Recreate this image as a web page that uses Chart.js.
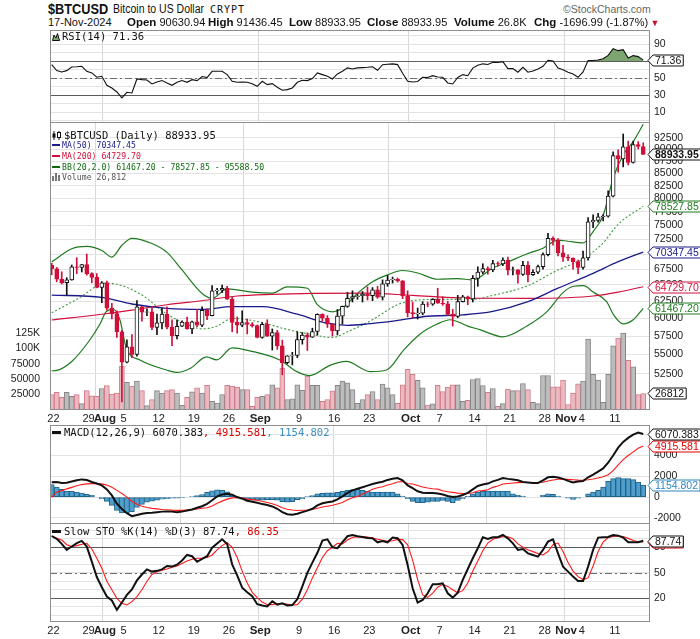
<!DOCTYPE html>
<html>
<head>
<meta charset="utf-8">
<title>$BTCUSD</title>
<script src="https://cdn.jsdelivr.net/npm/chart.js@4.4.1/dist/chart.umd.min.js"></script>
<style>
  html, body { margin: 0; padding: 0; background: #fff; }
  body { position: relative; width: 700px; height: 639px; overflow: hidden; font-family: "Liberation Sans", Arial, sans-serif; color: #111; }
  canvas { position: absolute; left: 0; }
  .t { position: absolute; white-space: nowrap; line-height: 1; }
  .mono { font-family: "DejaVu Sans Mono", monospace; font-size: 10.5px; }
  .sub { font-family: "DejaVu Sans Mono", monospace; font-size: 8.2px; }
  .mk { display: inline-block; width: 8px; height: 2px; vertical-align: middle; margin: 0 2px 1px 0; }
  .sx { transform-origin: 0 0; }
  .hb { font-weight: bold; font-size: 11.5px; }
</style>
</head>
<body>
<canvas id="rsi" width="700" height="93" style="top:30px"></canvas>
<canvas id="main" width="700" height="306" style="top:122px"></canvas>
<canvas id="macd" width="700" height="99" style="top:425px"></canvas>
<canvas id="sto" width="700" height="116" style="top:523px"></canvas>

<!-- header -->
<div class="t sx" style="left:48px;top:1px;font-size:15px;font-weight:bold;transform:scaleX(0.85)">$BTCUSD</div>
<div class="t sx" style="left:113px;top:3px;font-size:12px;transform:scaleX(0.875)">Bitcoin to US Dollar</div>
<div class="t" style="left:210px;top:5px;font-family:'DejaVu Sans Mono',monospace;font-size:10px;letter-spacing:1px">CRYPT</div>
<div class="t" style="left:563px;top:4px;font-size:10.5px;color:#666">&copy;StockCharts.com</div>
<div class="t" style="left:48px;top:17px;font-size:11px">17-Nov-2024</div>
<div class="t" style="left:127px;top:16.5px;font-size:11px"><span class="hb">Open</span> 90630.94</div>
<div class="t" style="left:208px;top:16.5px;font-size:11px"><span class="hb">High</span> 91436.45</div>
<div class="t" style="left:289px;top:16.5px;font-size:11px"><span class="hb">Low</span> 88933.95</div>
<div class="t" style="left:367px;top:16.5px;font-size:11px"><span class="hb">Close</span> 88933.95</div>
<div class="t" style="left:454px;top:16.5px;font-size:11px"><span class="hb">Volume</span> 26.8K</div>
<div class="t" style="left:534px;top:16.5px;font-size:11px"><span class="hb">Chg</span> -1696.99 (-1.87%)<span style="color:#c8102e;font-size:9px"> &#9660;</span></div>

<!-- panel titles -->
<div class="t mono" style="left:52px;top:30.5px"><svg width="8" height="8" style="vertical-align:-1px;margin-right:2px"><polygon points="0.5,7.5 2,2 4,5 5.5,0.5 7.5,7.5" fill="#7ca56f" stroke="#111" stroke-width="1"/></svg>RSI(14) 71.36</div>

<div class="t mono" style="left:52px;top:129.7px"><svg width="10" height="9" style="vertical-align:-1px;margin-right:2px"><line x1="2" y1="0" x2="2" y2="9" stroke="#111"/><rect x="0.5" y="2.5" width="3" height="4" fill="#111"/><line x1="7" y1="0" x2="7" y2="9" stroke="#111"/><rect x="5.5" y="1.5" width="3" height="5" fill="#fff" stroke="#111"/></svg>$BTCUSD (Daily) 88933.95</div>
<div class="t sub" style="left:52px;top:141.4px;color:#1a1a8a"><span class="mk" style="background:#1a1a8a"></span>MA(50) 70347.45</div>
<div class="t sub" style="left:52px;top:152.4px;color:#d0103a"><span class="mk" style="background:#d0103a"></span>MA(200) 64729.70</div>
<div class="t sub" style="left:52px;top:163px;color:#0d6b0d"><span class="mk" style="background:#0d6b0d"></span>BB(20,2.0) 61467.20 - 78527.85 - 95588.50</div>
<div class="t sub" style="left:52px;top:173px;color:#555"><svg width="8" height="8" style="vertical-align:-1px;margin-right:2px"><rect x="0" y="3" width="2" height="5" fill="#777"/><rect x="3" y="0" width="2" height="8" fill="#777"/><rect x="6" y="2" width="2" height="6" fill="#777"/></svg>Volume 26,812</div>

<div class="t mono" style="left:52px;top:426.5px"><span class="mk" style="background:#111;height:3px;width:9px;margin-right:3px"></span>MACD(12,26,9) 6070.383<span style="color:#e00000">, 4915.581</span><span style="color:#3a8fc4">, 1154.802</span></div>
<div class="t mono" style="left:52px;top:526px"><span class="mk" style="background:#111;height:3px;width:9px;margin-right:3px"></span>Slow STO %K(14) %D(3) 87.74<span style="color:#e00000">, 86.35</span></div>

<script>
// ---- daily candles, Jul 22 (index 0) .. Nov 17 2024 (index 118) ----
const opens = [
  68160, 67580, 65930, 65370, 65800, 67900, 67810, 68250, 66800, 66200,
  64620, 65350, 61500, 60680, 58100, 54000, 56050, 55020, 61700, 60900,
  60950, 58700, 59350, 60600, 58740, 57560, 58870, 59480, 58480, 59490,
  59010, 61180, 60380, 64090, 64180, 64500, 62830, 59420, 59030, 59390,
  59120, 58970, 57300, 59130, 57480, 57970, 56160, 53950, 54840, 54880,
  57020, 57650, 57340, 58130, 60570, 60010, 59180, 58210, 60310, 61760,
  62950, 63200, 63350, 63580, 63340, 64260, 63140, 65180, 65790, 65890,
  65640, 63330, 60840, 60630, 60750, 62090, 62060, 62820, 62220, 62130,
  60580, 60270, 62450, 63190, 62850, 66050, 67040, 67610, 67400, 68420,
  68360, 69000, 67370, 67400, 66680, 68160, 66640, 67020, 67930, 69910,
  72720, 72340, 70210, 69480, 69330, 68740, 67810, 69360, 75640, 75900,
  76550, 76680, 80470, 88700, 87950, 90580, 87250, 91070, 90631
];
const highs = [
  68480, 67800, 67100, 66150, 68200, 69400, 68300, 70000, 66950, 66800,
  65550, 65600, 62200, 61100, 58300, 57000, 57700, 62600, 61750, 61400,
  61750, 60600, 61500, 61700, 59800, 59800, 59650, 60200, 59600, 61300,
  61700, 61400, 64900, 64500, 65000, 64800, 63200, 60200, 61100, 59900,
  59400, 59050, 59400, 59800, 58500, 58300, 56950, 54850, 55300, 58100,
  58000, 57950, 58600, 60650, 60650, 60400, 59200, 61300, 61800, 63850,
  64100, 63550, 64000, 64700, 64600, 64800, 65800, 66500, 66250, 66100,
  65700, 64100, 62400, 61500, 62450, 62400, 62900, 64500, 63200, 62500,
  61300, 63400, 63400, 63300, 66500, 67900, 68400, 67900, 68950, 68700,
  69400, 69500, 67850, 67450, 68800, 68750, 67400, 68200, 70200, 73600,
  72950, 72650, 71500, 69900, 69400, 69000, 70500, 76400, 76900, 77200,
  76950, 81500, 89500, 89900, 93400, 91800, 91800, 91700, 91436
];
const lows = [
  66600, 65500, 65150, 63450, 65750, 66800, 67050, 66550, 65350, 64550,
  62300, 61200, 59900, 57300, 49100, 53900, 54600, 54800, 59600, 60400,
  58400, 57700, 58500, 58500, 56200, 57100, 58800, 58450, 57850, 58800,
  58800, 59800, 60350, 63600, 63800, 62800, 58100, 57900, 58800, 57800,
  58750, 57250, 57200, 57450, 55600, 55700, 52400, 53800, 53650, 54600,
  56400, 55550, 57300, 57650, 59600, 58700, 57500, 57650, 59200, 61600,
  62400, 62800, 62400, 62700, 62600, 62950, 62700, 64800, 65300, 65450,
  62900, 60200, 60050, 59900, 60500, 61700, 61900, 62200, 61900, 60400,
  58900, 60100, 62400, 62000, 62400, 64800, 66800, 66700, 67100, 68000,
  68100, 66600, 66600, 65300, 66500, 65500, 66500, 66800, 67500, 69700,
  71500, 69700, 68800, 68900, 67500, 66800, 67500, 69000, 74600, 75600,
  75800, 76500, 80300, 85200, 86300, 86700, 87100, 90100, 88934
];
const closes = [
  67580, 65930, 65370, 65800, 67900, 67810, 68250, 66800, 66200, 64620,
  65350, 61500, 60680, 58100, 54000, 56050, 55020, 61700, 60900, 60950,
  58700, 59350, 60600, 58740, 57560, 58870, 59480, 58480, 59490, 59010,
  61180, 60380, 64090, 64180, 64500, 62830, 59420, 59030, 59390, 59120,
  58970, 57300, 59130, 57480, 57970, 56160, 53950, 54840, 54880, 57020,
  57650, 57340, 58130, 60570, 60010, 59180, 58210, 60310, 61760, 62950,
  63200, 63350, 63580, 63340, 64260, 63140, 65180, 65790, 65890, 65640,
  63330, 60840, 60630, 60750, 62090, 62060, 62820, 62220, 62130, 60580,
  60270, 62450, 63190, 62850, 66050, 67040, 67610, 67400, 68420, 68360,
  69000, 67370, 67400, 66680, 68160, 66640, 67020, 67930, 69910, 72720,
  72340, 70210, 69480, 69330, 68740, 67810, 69360, 75640, 75900, 76550,
  76680, 80470, 88700, 87950, 90580, 87250, 91070, 90631, 88933.95
];
const volumes = [
  25000, 28800, 20600, 28800, 22200, 25000, 10300, 31500, 23000, 22000,
  34800, 39700, 26000, 27600, 71200, 45000, 38600, 46700, 31500, 7000,
  16800, 31500, 27600, 31500, 33200, 27600, 7500, 20600, 29400, 36000,
  27600, 40200, 14000, 11300, 25000, 40200, 38600, 37000, 33000, 33000,
  6000, 20600, 22000, 25000, 41000, 36000, 68000, 17000, 18000, 41000,
  32000, 55000, 40000, 40000, 14000, 17000, 31000, 40000, 46700, 44000,
  33000, 11000, 17000, 25000, 30000, 17000, 42000, 36000, 25000, 11000,
  41000, 66000, 58000, 48000, 36000, 8000, 10000, 40000, 30000, 37000,
  41000, 41000, 14000, 15700, 49500, 51000, 39700, 28800, 34800, 5900,
  10300, 34000, 31500, 31500, 43000, 33000, 12400, 10300, 56000, 56000,
  37400, 37400, 48400, 8600, 27600, 42300, 46700, 114900, 57700, 48400,
  12400, 57700, 104000, 116500, 124700, 80500, 70000, 25000, 26812
];

// ---- overlays read at sample days: [day, value] ----
const ma50 = [[0,63450],[10,63100],[16,62100],[23,61450],[30,61300],[36,61700],[42,61700],[49,60600],[55,59300],[59,59000],[63,59200],[69,59700],[75,60300],[82,60500],[88,61000],[95,62450],[101,64500],[108,66850],[113,68750],[118,70347.45]];
const ma200 = [[0,59760],[10,60600],[16,61200],[23,62000],[30,62600],[37,63300],[44,63550],[52,63700],[63,63750],[72,63400],[83,63000],[95,62950],[103,63050],[108,63300],[113,63900],[118,64729.70]];
const bbUpper = [[0,68700],[4,70900],[7,71300],[10,70600],[12,69500],[14,71500],[16,72700],[20,71800],[23,70300],[26,67400],[30,63700],[32,62950],[35,64400],[40,63900],[44,63750],[47,64700],[51,64500],[53,62000],[56,60950],[58,61500],[61,63700],[64,65500],[67,66600],[70,67300],[73,66900],[77,65900],[81,66000],[84,65800],[88,67700],[91,68700],[95,70100],[98,71000],[101,72400],[103,72200],[106,71900],[108,73900],[110,76800],[112,84000],[114,88800],[116,91700],[118,95588.50]];
const bbMiddle = [[0,60800],[5,62800],[11,65300],[14,64900],[18,63450],[23,60600],[27,59150],[30,58500],[33,58900],[36,60000],[42,59400],[46,58600],[52,57700],[56,57300],[59,58100],[64,59800],[69,62000],[73,62700],[78,62800],[84,62800],[88,63400],[95,64900],[101,67400],[106,69200],[110,71900],[113,75200],[118,78527.85]];
const bbLower = [[0,52900],[1,52950],[4,54100],[7.6,56960],[9.6,59150],[10.9,61000],[12.3,61300],[13.6,59800],[14.9,55800],[17.6,54300],[22.9,53000],[24.9,52700],[27.6,53200],[30.9,54700],[32.9,54300],[36,55900],[39.5,55500],[45.5,54300],[48.9,52800],[51.5,52300],[55.5,53600],[58.8,54100],[63.5,52800],[66.8,53000],[70.2,55600],[73.5,57800],[76.8,59150],[79.5,59800],[83,58900],[85.4,58400],[90,57400],[94.8,58900],[98.8,60970],[102.1,63900],[104.1,64800],[106.1,64900],[108,63900],[110.7,62450],[112,60600],[114,59200],[116,59800],[118,61467.20]];

// ---- indicators, one value per day ----
const rsi = [
  66, 59, 57.5, 59, 63.3, 63.5, 64.1, 58.2, 56.3, 51.2,
  52.4, 41.8, 38.6, 33.9, 26.9, 33.5, 32.7, 49.2, 48.4, 48,
  43.3, 45.7, 47.3, 44.5, 41.8, 45.3, 47.3, 45.3, 48.4, 47.3,
  52, 50.8, 58.2, 58.2, 58.2, 54.3, 46.5, 45.3, 45.7, 45.3,
  43.7, 40.6, 46.5, 42.5, 43.7, 39.4, 35.9, 36.7, 38.6, 45.3,
  47.6, 47.3, 49.6, 56.3, 54.3, 52.4, 49.2, 55.1, 58.2, 62.2,
  61, 62.2, 62.5, 62.9, 63.5, 59.4, 66, 66.5, 66.9, 66.1,
  56, 46.5, 45.7, 46.2, 51.2, 51, 53.1, 51.5, 51.2, 44.5,
  43.3, 51, 54.3, 53, 62, 65.3, 67, 66.2, 68.8, 68.5,
  69.6, 61.4, 61.4, 57.1, 62.9, 57.1, 58.5, 61, 64.1, 71.2,
  70.4, 62, 60, 57.1, 55, 51.2, 57.5, 70.8, 71, 71.6,
  73, 77, 84.9, 82.5, 83.7, 73.9, 76.7, 75.5, 71.36
];
const macdLine = [
  1420, 1440, 1360, 1380, 1500, 1620, 1700, 1640, 1450, 1300,
  1127, 741, 161, -644, -1150, -1550, -1835, -1720, -1600, -1530,
  -1513, -1460, -1400, -1385, -1400, -1449, -1400, -1300, -1200, -1030,
  -880, -650, -300, 64, 250, 322, 230, 0, -150, -350,
  -450, -547, -676, -760, -900, -1127, -1450, -1650, -1707, -1610,
  -1450, -1300, -1127, -805, -600, -500, -419, -225, 70, 400,
  650, 805, 950, 1100, 1250, 1385, 1470, 1650, 1760, 1835,
  1610, 1127, 850, 560, 420, 386, 386, 340, 250, 97,
  0, 60, 200, 400, 741, 1063, 1200, 1300, 1513, 1650,
  1835, 1750, 1680, 1610, 1449, 1400, 1360, 1352, 1600, 1900,
  1950, 1880, 1750, 1560, 1400, 1500, 1550, 1900, 2150, 2450,
  2750, 3300, 4000, 4750, 5300, 5690, 6000, 6200, 6070.383
];
const macdSignal = [
  0, 470, 620, 790, 930, 1080, 1200, 1270, 1290, 1290,
  1270, 1150, 950, 644, 340, 0, -400, -690, -880, -1000,
  -1090, -1140, -1190, -1225, -1260, -1280, -1280, -1250, -1210, -1150,
  -1080, -1030, -850, -600, -390, -200, -80, -40, -100, -200,
  -250, -300, -430, -530, -640, -810, -1030, -1170, -1240, -1290,
  -1270, -1250, -1200, -1070, -960, -880, -790, -660, -520, -250,
  -60, 64, 300, 520, 760, 900, 990, 1160, 1280, 1450,
  1500, 1300, 1260, 1110, 970, 870, 805, 760, 600, 516,
  450, 382, 350, 336, 419, 580, 620, 708, 933, 1070,
  1255, 1300, 1350, 1390, 1400, 1400, 1395, 1390, 1430, 1540,
  1640, 1720, 1740, 1700, 1660, 1630, 1620, 1660, 1740, 1840,
  1950, 2150, 2550, 3100, 3600, 4000, 4350, 4700, 4915.581
];
const macdHist = [
  1191, 966, 741, 580, 547, 483, 386, 258, 161, 0,
  -161, -419, -805, -1288, -1513, -1513, -1400, -1000, -700, -500,
  -400, -300, -200, -150, -100, -100, -50, 0, 50, 150,
  250, 450, 600, 700, 650, 500, 200, -100, -200, -250,
  -300, -300, -300, -250, -250, -300, -450, -500, -450, -250,
  -150, 50, 150, 300, 350, 400, 400, 450, 550, 644,
  708, 741, 644, 580, 483, 483, 483, 483, 483, 322,
  97, -161, -419, -547, -547, -483, -419, -419, -322, -419,
  -547, -322, -161, 64, 322, 483, 580, 580, 580, 580,
  580, 580, 322, 161, 97, 0, 0, 0, 161, 322,
  258, 97, 0, -97, -225, -97, 0, 322, 483, 644,
  966, 1513, 1771, 1868, 1771, 1771, 1674, 1449, 1154.802
];
const stoK = [
  93.3, 90, 84, 77, 81, 85, 87.5, 80.8, 63.1, 45,
  33, 22, 17.5, 6.3, 15, 24, 30.5, 41, 48, 54,
  51.4, 52.3, 54, 58, 57.3, 59.5, 64.5, 71, 69.5, 63,
  66.5, 69.5, 79.5, 84.5, 89.5, 84, 60, 47, 32.5, 27,
  22.5, 13, 11.5, 10.4, 16.5, 12.5, 14, 11.5, 12, 19,
  34, 50, 62, 73.5, 88, 89.4, 80, 79, 86, 93,
  94.5, 93, 92.2, 91, 90.6, 85.9, 87.5, 85.9, 91.4, 90.6,
  82.7, 59.2, 31.8, 14.9, 18, 25.9, 36.5, 36.5, 37.6, 25.9,
  20.8, 26.7, 41.6, 54.5, 67.1, 78.8, 91.8, 89.8, 91.8, 91.8,
  94.5, 90.6, 84.7, 76.9, 78, 72.9, 71, 69, 76.9, 86.7,
  89.4, 72.9, 57.3, 51.4, 45.5, 40.4, 40.4, 57.3, 76.9, 91.4,
  91.8, 92.2, 94.5, 93.7, 91.4, 85.9, 85.9, 85.9, 87.74
];
const stoD = [
  93.3, 90.5, 88.6, 83, 80.8, 82, 83.5, 84.7, 78, 67,
  55.3, 40, 30, 20, 14.1, 12.2, 16, 22, 30, 40,
  48, 51.4, 53, 54.5, 56.5, 58, 61, 64, 66, 67.1,
  67.1, 68, 71, 77, 82, 85.5, 80, 68, 52, 38,
  27, 20.8, 15.5, 12.5, 12.5, 13.5, 13.7, 13, 12.2, 12.5,
  19, 30, 44, 56, 68, 76, 80, 84.7, 84, 88.5,
  91.5, 92.5, 92.3, 92.2, 90.8, 89.5, 88.3, 87, 87.8, 89.3,
  89, 83, 65, 42, 24, 21, 26, 33, 36.5, 34,
  30, 26.5, 29, 38, 52, 64, 76, 85, 89.5, 91.2,
  92.5, 92.5, 90, 84, 80, 77, 74.9, 72.8, 71, 75,
  83, 85, 75, 62, 52, 45.5, 42, 44, 58, 75,
  86, 91.5, 92.8, 93.3, 92.8, 90.5, 88, 86.5, 86.35
];

// ---- axis labels ----
const tickDays = [0, 7, 10, 14, 21, 28, 35, 41, 49, 56, 63, 71, 77, 84, 91, 98, 102, 105, 112];
const tickText = ['22', '29', 'Aug', '5', '12', '19', '26', 'Sep', '9', '16', '23', 'Oct', '7', '14', '21', '28', 'Nov', '4', '11'];
const monthDays = [10, 41, 71, 102];
const priceTicks = [52500, 55000, 57500, 60000, 62500, 65000, 67500, 70000, 72500, 75000, 77500, 80000, 82500, 85000, 87500, 90000, 92500];
const volTicks = [25000, 50000, 75000, 100000, 125000];
const oscTicks = [0, 10, 20, 30, 40, 50, 60, 70, 80, 90, 100];
const rsiLabeled = [10, 30, 50, 70, 90];
const stoLabeled = [20, 50, 80];
const macdTicks = [-2000, 0, 2000, 4000, 6000];

// ---- styling ----
const FONT = '"Liberation Sans", Arial, sans-serif';
const RED = '#d0103a';
const GRID = '#e3e3e3';
const FRAME = '#8e8e8e';
const X_MIN = -0.34, X_MAX = 119.35;

Chart.defaults.font.family = FONT;
Chart.defaults.animation = false;

const pts = arr => arr.map((v, i) => ({x: i, y: v}));
const pairs = arr => arr.map(p => ({x: p[0], y: p[1]}));

// label ticks plus month grid ticks on one axis
const labelTicks = tickDays.map((d, i) => {
  const month = monthDays.includes(d);
  return {value: d + (month ? 0.6 : 0.35) + (tickText[i] === '4' ? 0.4 : 0), text: tickText[i], bold: month, grid: false};
});
const gridTicks = monthDays.map(d => ({value: d + 0.2, text: '', bold: false, grid: true}));
const xTickList = labelTicks.concat(gridTicks).sort((a, b) => a.value - b.value);

function xAxis(labels, h) {
  const list = labels ? xTickList : gridTicks;
  return {
    type: 'linear', min: X_MIN, max: X_MAX, offset: false,
    afterBuildTicks: s => { s.ticks = list.map(t => ({value: t.value})); },
    afterFit: s => { s.height = h; s.paddingLeft = 0; s.paddingRight = 0; },
    grid: { drawTicks: false, color: c => (list[c.index] && list[c.index].grid) ? '#d9d9d9' : 'rgba(0,0,0,0)' },
    border: { display: false },
    ticks: {
      display: labels, padding: 2, autoSkip: false, maxRotation: 0, color: '#222',
      callback: (v, i) => list[i].text,
      font: c => (list[c.index] && list[c.index].bold) ? {family: FONT, size: 11.5, weight: 'bold'} : {family: FONT, size: 11}
    }
  };
}

function yTicks(cb) {
  return { padding: 4, autoSkip: false, color: '#222', font: {family: FONT, size: 10.5}, callback: cb };
}

function rightAxis(extra) {
  return Object.assign({
    position: 'right',
    afterFit: s => { s.width = 50; s.paddingTop = 0; s.paddingBottom = 0; },
    grid: { drawTicks: false, color: GRID },
    border: { display: false }
  }, extra);
}

function drawBox(ctx, x, y, text, color, bold) {
  ctx.font = (bold ? 'bold ' : '') + '10.5px ' + FONT;
  const w = ctx.measureText(text).width + 4, h = 11, tip = 5;
  y = Math.round(y) + 0.5;
  ctx.beginPath();
  ctx.moveTo(x, y);
  ctx.lineTo(x + tip, y - h / 2);
  ctx.lineTo(x + tip + w, y - h / 2);
  ctx.lineTo(x + tip + w, y + h / 2);
  ctx.lineTo(x + tip, y + h / 2);
  ctx.closePath();
  ctx.fillStyle = '#fff';
  ctx.fill();
  ctx.strokeStyle = color;
  ctx.lineWidth = 1;
  ctx.stroke();
  ctx.fillStyle = color;
  ctx.textBaseline = 'middle';
  ctx.textAlign = 'left';
  ctx.fillText(text, x + tip + 2, y + 0.5);
}

function panel(levels, boxes) {
  return {
    id: 'panel',
    beforeDatasetsDraw(chart) {
      const {ctx, chartArea: a} = chart;
      levels.forEach(l => {
        const y = Math.round(chart.scales.y.getPixelForValue(l.v)) + 0.5;
        ctx.save();
        ctx.strokeStyle = l.c;
        ctx.lineWidth = l.w;
        ctx.setLineDash(l.d || []);
        ctx.beginPath();
        ctx.moveTo(a.left, y);
        ctx.lineTo(a.right, y);
        ctx.stroke();
        ctx.restore();
      });
    },
    afterDraw(chart) {
      const {ctx, chartArea: a} = chart;
      ctx.save();
      ctx.strokeStyle = FRAME;
      ctx.lineWidth = 1;
      ctx.strokeRect(Math.round(a.left) + 0.5, Math.round(a.top) + 0.5,
        Math.round(a.right - a.left) - 1, Math.round(a.bottom - a.top) - 1);
      boxes.forEach(b => drawBox(ctx, a.right - 2, chart.scales[b.axis || 'y'].getPixelForValue(b.v), b.t, b.c, b.bold));
      ctx.restore();
    }
  };
}

const baseOpts = (padLeft) => ({
  responsive: false,
  maintainAspectRatio: false,
  animation: false,
  events: [],
  layout: { padding: { left: padLeft, right: 0, top: 0, bottom: 0 } },
  plugins: { legend: { display: false }, tooltip: { enabled: false } },
  elements: { point: { radius: 0 }, line: { tension: 0 } }
});

const levelStyle = (v, kind) => kind === 'mid'
  ? {v: v, c: '#6d6d6d', w: 1, d: [7, 3, 2, 3]}
  : {v: v, c: '#5a5a5a', w: 1.2};

// ---- RSI ----
new Chart(document.getElementById('rsi'), {
  type: 'line',
  data: { datasets: [{
    data: pts(rsi), borderColor: '#111', borderWidth: 1.1,
    fill: { target: { value: 70 }, above: '#7ca56f', below: 'rgba(0,0,0,0)' }
  }] },
  options: Object.assign(baseOpts(50), {
    scales: {
      x: xAxis(false, 0),
      y: rightAxis({
        min: -2.6, max: 106.8,
        afterBuildTicks: s => { s.ticks = oscTicks.map(v => ({value: v})); },
        ticks: yTicks(v => rsiLabeled.includes(v) ? v : '')
      })
    }
  }),
  plugins: [panel([levelStyle(70), levelStyle(30), levelStyle(50, 'mid')], [{v: 71.36, t: '71.36', c: '#111'}])]
});

// ---- price + volume ----
const up = closes.map((c, i) => c >= opens[i]);
const lineDs = (arr, color, width, dash, order) => ({
  type: 'line', data: pairs(arr), yAxisID: 'y', borderColor: color, borderWidth: width,
  borderDash: dash || [], cubicInterpolationMode: 'monotone', order: order
});

new Chart(document.getElementById('main'), {
  type: 'bar',
  data: { datasets: [
    { data: opens.map((o, i) => ({x: i, y: [o, closes[i]]})), yAxisID: 'y', grouped: false,
      barThickness: 4, borderWidth: 1, borderSkipped: false,
      backgroundColor: up.map(u => u ? '#ffffff' : RED), borderColor: up.map(u => u ? '#111' : RED), order: 1 },
    { data: highs.map((h, i) => ({x: i, y: [lows[i], h]})), yAxisID: 'y', grouped: false,
      barThickness: 1, borderWidth: 0, backgroundColor: up.map(u => u ? '#111' : RED), order: 2 },
    lineDs(ma50, '#1a1a8a', 1.3, null, 3),
    lineDs(ma200, RED, 1.1, null, 4),
    lineDs(bbUpper, '#1f7a1f', 1.2, null, 5),
    lineDs(bbLower, '#1f7a1f', 1.2, null, 5),
    lineDs(bbMiddle, '#3f9a3f', 1.1, [2, 2], 6),
    { data: pts(volumes), yAxisID: 'vol', grouped: false, barThickness: 5, borderWidth: 1,
      backgroundColor: up.map(u => u ? '#bdbdbd' : '#ecb9c0'), borderColor: up.map(u => u ? '#858585' : '#cf7d8c'), order: 9 }
  ] },
  options: Object.assign(baseOpts(0), {
    scales: {
      x: xAxis(true, 18),
      y: rightAxis({
        type: 'logarithmic', min: 48152, max: 96121,
        afterBuildTicks: s => { s.ticks = priceTicks.map(v => ({value: v})); },
        ticks: yTicks(v => String(v))
      }),
      vol: {
        type: 'linear', position: 'left', min: 0, max: 467000,
        afterFit: s => { s.width = 50; s.paddingTop = 0; s.paddingBottom = 0; },
        afterBuildTicks: s => { s.ticks = volTicks.map(v => ({value: v})); },
        grid: { display: false },
        border: { display: false },
        ticks: { padding: 2, autoSkip: false, color: '#222', font: {family: FONT, size: 10.5},
          callback: v => v >= 100000 ? (v / 1000) + 'K' : String(v) }
      }
    }
  }),
  plugins: [panel([], [
    {v: 88933.95, t: '88933.95', c: '#111', bold: true},
    {v: 78527.85, t: '78527.85', c: '#1f7a1f'},
    {v: 70347.45, t: '70347.45', c: '#1a1a8a'},
    {v: 64729.70, t: '64729.70', c: RED},
    {v: 61467.20, t: '61467.20', c: '#1f7a1f'},
    {v: 26812, t: '26812', c: '#111', axis: 'vol'}
  ])]
});

// ---- MACD ----
new Chart(document.getElementById('macd'), {
  type: 'bar',
  data: { datasets: [
    { type: 'line', data: pts(macdLine), borderColor: '#111', borderWidth: 2, order: 1 },
    { type: 'line', data: pts(macdSignal), borderColor: '#ff1a1a', borderWidth: 1.1, order: 2 },
    { data: pts(macdHist), grouped: false, barThickness: 5, borderWidth: 1, borderSkipped: false,
      backgroundColor: '#4f9fcd', borderColor: '#22638a', order: 3 }
  ] },
  options: Object.assign(baseOpts(50), {
    scales: {
      x: xAxis(false, 0),
      y: rightAxis({
        min: -2590, max: 6930,
        afterBuildTicks: s => { s.ticks = macdTicks.map(v => ({value: v})); },
        ticks: yTicks(v => String(v))
      })
    }
  }),
  plugins: [panel([], [
    {v: 1154.802, t: '1154.802', c: '#2f86bf'},
    {v: 4915.581, t: '4915.581', c: '#e00000'},
    {v: 6070.383, t: '6070.383', c: '#111'}
  ])]
});

// ---- Slow Stochastic ----
new Chart(document.getElementById('sto'), {
  type: 'line',
  data: { datasets: [
    { data: pts(stoK), borderColor: '#111', borderWidth: 2, order: 1 },
    { data: pts(stoD), borderColor: '#ff1a1a', borderWidth: 1.1, order: 2 }
  ] },
  options: Object.assign(baseOpts(50), {
    scales: {
      x: xAxis(true, 17),
      y: rightAxis({
        min: -7.9, max: 108.6,
        afterBuildTicks: s => { s.ticks = oscTicks.map(v => ({value: v})); },
        ticks: yTicks(v => stoLabeled.includes(v) ? v : '')
      })
    }
  }),
  plugins: [panel([levelStyle(80), levelStyle(20), levelStyle(50, 'mid')], [
    {v: 86.35, t: '86.35', c: '#e00000'},
    {v: 87.74, t: '87.74', c: '#111'}
  ])]
});
</script>
</body>
</html>
